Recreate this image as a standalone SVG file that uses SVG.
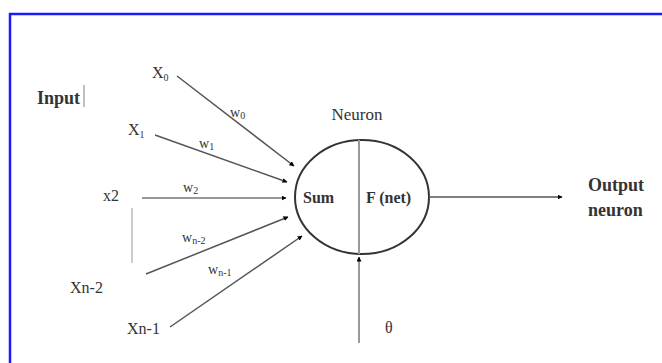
<svg xmlns="http://www.w3.org/2000/svg" width="662" height="363" viewBox="0 0 662 363">
<defs>
<marker id="ah" viewBox="0 0 10 10" refX="9" refY="5" markerWidth="5" markerHeight="5" markerUnits="userSpaceOnUse" orient="auto">
<path d="M0,0 L10,5 L0,10 z" fill="#000"/>
</marker>
</defs>
<style>
text{font-family:"Liberation Serif","Times New Roman",serif;fill:#333}
.lbl{font-size:16px}
.w{font-size:14px}
.b{font-weight:bold}
.ln{stroke:#555;stroke-width:1.5;fill:none}
.gl{stroke:#999;stroke-width:2;fill:none}
</style>
<rect x="0" y="0" width="662" height="363" fill="#fff"/>
<rect x="10" y="14" width="700" height="400" fill="none" stroke="#1a1aff" stroke-width="2.5"/>
<g id="input-label">
<text x="37" y="104" class="b" font-size="18">Input</text>
<line x1="84" y1="85" x2="84" y2="107" stroke="#aaa" stroke-width="1.5"/>
</g>
<g id="x0"><text x="152" y="78" class="lbl">X<tspan font-size="10" dy="3">0</tspan></text></g>
<g id="x1"><text x="128" y="135" class="lbl">X<tspan font-size="10" dy="3">1</tspan></text></g>
<g id="x2"><text x="103" y="201" class="lbl">x2</text></g>
<g id="xn2"><text x="70" y="293" class="lbl" font-size="17">Xn-2</text></g>
<g id="xn1"><text x="127" y="334" class="lbl" font-size="17">Xn-1</text></g>
<g id="weights">
<text x="230" y="117" class="w">w<tspan font-size="10" dy="2">0</tspan></text>
<text x="199" y="148" class="w">w<tspan font-size="10" dy="2">1</tspan></text>
<text x="183" y="192" class="w">w<tspan font-size="10" dy="2">2</tspan></text>
<text x="182" y="242" class="w">w<tspan font-size="10" dy="2">n-2</tspan></text>
<text x="208" y="274" class="w">w<tspan font-size="10" dy="2">n-1</tspan></text>
</g>
<g id="neuron">
<text x="357" y="120" font-size="17" text-anchor="middle">Neuron</text>
<ellipse cx="362" cy="197" rx="67" ry="57" fill="none" stroke="#333" stroke-width="2"/>
<line x1="359" y1="140" x2="359" y2="254" class="gl"/>
<text x="303" y="203" class="b" font-size="16">Sum</text>
<text x="366" y="203" class="b" font-size="16">F (net)</text>
</g>
<g id="output">
<text x="588" y="191" class="b" font-size="18">Output</text>
<text x="588" y="216" class="b" font-size="18">neuron</text>
</g>
<g id="theta"><text x="385" y="333" class="lbl">θ</text></g>
<g id="connectors">
<line x1="177" y1="76" x2="294" y2="166" class="ln" marker-end="url(#ah)"/>
<line x1="155" y1="135" x2="287" y2="182" class="ln" marker-end="url(#ah)"/>
<line x1="142" y1="198" x2="286" y2="198" class="gl" marker-end="url(#ah)"/>
<line x1="146" y1="274" x2="288" y2="217" class="ln" marker-end="url(#ah)"/>
<line x1="170" y1="327" x2="302" y2="236" class="ln" marker-end="url(#ah)"/>
<line x1="429" y1="197" x2="562" y2="197" class="ln" marker-end="url(#ah)"/>
<line x1="359" y1="343" x2="359" y2="257" class="gl" marker-end="url(#ah)"/>
<line x1="132" y1="208" x2="132" y2="263" stroke="#bbb" stroke-width="1.5"/>
</g>
</svg>
